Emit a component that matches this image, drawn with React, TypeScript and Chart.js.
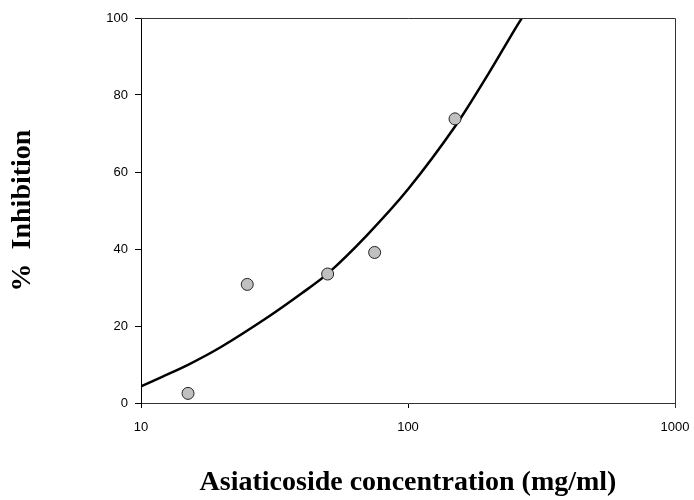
import React, { useEffect, useRef } from "react";
import { Chart, registerables } from "chart.js";

Chart.register(...registerables);

// Measured inhibition at each asiaticoside concentration
const concentrations = [15, 25, 50, 75, 150];
const inhibition = [2.5, 30.8, 33.5, 39.1, 73.8];

// Fitted response curve, read along its length
const fitX = [10, 12, 15, 20, 30, 40, 50, 70, 100, 150, 200, 250, 267];
const fitY = [4.3, 6.8, 9.9, 14.6, 22.4, 28.5, 33.6, 43.5, 55.5, 71.8, 85.5, 96.8, 100];

const xTickValues = [10, 100, 1000];
const yTickValues = [0, 20, 40, 60, 80, 100];

const xTitle = "Asiaticoside concentration (mg/ml)";
const yTitle = "%  Inhibition";

const tickFont = { family: "'Liberation Sans', Arial, sans-serif", size: 13 };
const titleFont = { family: "'Liberation Serif', 'Times New Roman', serif", size: 28, weight: "bold" as const };

// Closes the plot frame on the top and right sides
const framePlugin = {
  id: "frame",
  afterDatasetsDraw(chart: Chart) {
    const { ctx, chartArea } = chart;
    ctx.save();
    ctx.strokeStyle = "#333";
    ctx.lineWidth = 1;
    ctx.beginPath();
    ctx.moveTo(chartArea.left, chartArea.top + 0.5);
    ctx.lineTo(chartArea.right + 0.5, chartArea.top + 0.5);
    ctx.lineTo(chartArea.right + 0.5, chartArea.bottom + 5);
    ctx.stroke();
    ctx.restore();
  },
};

export default function App() {
  const canvasRef = useRef<HTMLCanvasElement | null>(null);

  useEffect(() => {
    const canvas = canvasRef.current;
    if (!canvas) return;
    const chart = new Chart(canvas, {
      type: "scatter",
      data: {
        datasets: [
          {
            type: "line",
            label: "fit",
            data: fitX.map((x, i) => ({ x, y: fitY[i] })),
            borderColor: "#000",
            borderWidth: 2.5,
            pointRadius: 0,
            tension: 0.3,
            fill: false,
            order: 2,
          },
          {
            type: "scatter",
            label: "data",
            data: concentrations.map((x, i) => ({ x, y: inhibition[i] })),
            backgroundColor: "#c0c0c0",
            borderColor: "#222",
            borderWidth: 1,
            pointRadius: 6,
            order: 1,
          },
        ],
      },
      options: {
        animation: false,
        responsive: false,
        layout: { padding: { left: 0, top: 18, right: 19, bottom: 0 } },
        plugins: { legend: { display: false }, tooltip: { enabled: false } },
        scales: {
          x: {
            type: "logarithmic",
            min: 10,
            max: 1000,
            afterBuildTicks(scale: any) {
              scale.ticks = xTickValues.map((value) => ({ value }));
            },
            afterFit(scale: any) {
              scale.height = 97;
              scale.paddingLeft = 0;
              scale.paddingRight = 0;
            },
            ticks: {
              color: "#000",
              font: tickFont,
              padding: 12,
              maxRotation: 0,
              autoSkip: false,
              callback: (v: any) => String(v),
            },
            grid: { drawOnChartArea: false, drawTicks: true, tickLength: 5, color: "#000", lineWidth: 1 },
            border: { display: true, color: "#333", width: 1 },
            title: { display: true, text: xTitle, color: "#000", font: titleFont, padding: { bottom: 0 } },
          },
          y: {
            min: 0,
            max: 100,
            afterBuildTicks(scale: any) {
              scale.ticks = yTickValues.map((value) => ({ value }));
            },
            afterFit(scale: any) {
              scale.width = 141;
              scale.paddingTop = 0;
              scale.paddingBottom = 0;
            },
            ticks: { color: "#000", font: tickFont, padding: 7 },
            grid: { drawOnChartArea: false, drawTicks: true, tickLength: 6, color: "#000", lineWidth: 1 },
            border: { display: true, color: "#000", width: 1 },
            title: { display: true, text: yTitle, color: "#000", font: titleFont, padding: { top: 6 } },
          },
        },
      },
      plugins: [framePlugin],
    });
    return () => chart.destroy();
  }, []);

  return (
    <div style={{ position: "fixed", left: 0, top: 0, width: 694, height: 500, background: "#fff" }}>
      <canvas ref={canvasRef} width={694} height={500} style={{ display: "block" }} />
    </div>
  );
}
